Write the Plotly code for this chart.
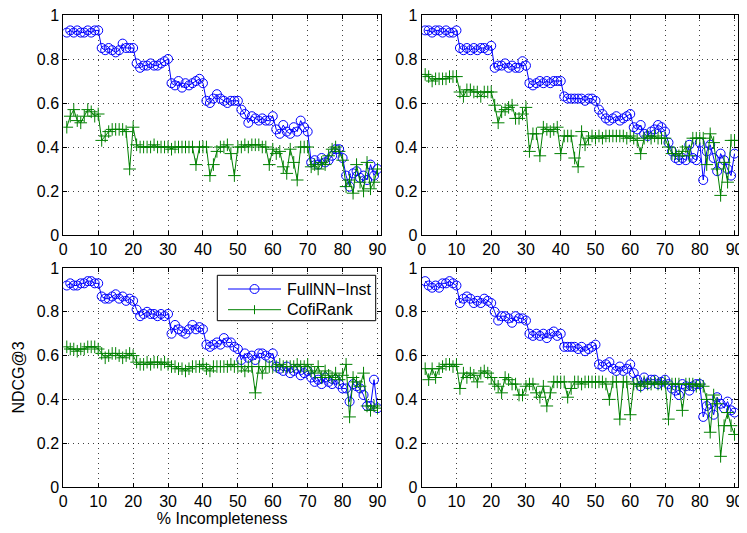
import plotly.graph_objects as go

x_vals = list(range(1, 91))

# Panel 1 (top-left)
p1_fullnn = [0.92, 0.93, 0.92, 0.93, 0.92, 0.92, 0.93, 0.92, 0.93, 0.93,
             0.85, 0.84, 0.85, 0.84, 0.83, 0.84, 0.87, 0.85, 0.85, 0.85,
             0.78, 0.76, 0.77, 0.77, 0.78, 0.77, 0.77, 0.78, 0.79, 0.80,
             0.69, 0.68, 0.70, 0.67, 0.69, 0.68, 0.69, 0.70, 0.71, 0.69,
             0.61, 0.60, 0.62, 0.64, 0.62, 0.61, 0.60, 0.61, 0.61, 0.61,
             0.57, 0.55, 0.51, 0.54, 0.53, 0.52, 0.53, 0.52, 0.52, 0.54,
             0.48, 0.46, 0.50, 0.47, 0.46, 0.49, 0.47, 0.52, 0.49, 0.47,
             0.33, 0.34, 0.32, 0.35, 0.33, 0.34, 0.36, 0.39, 0.39, 0.35,
             0.27, 0.22, 0.28, 0.29, 0.26, 0.27, 0.25, 0.32, 0.27, 0.30]
p1_cofi = [0.49, 0.54, 0.57, 0.52, 0.51, 0.54, 0.57, 0.56, 0.54, 0.55,
           0.43, 0.45, 0.47, 0.48, 0.48, 0.48, 0.48, 0.47, 0.30, 0.49,
           0.41, 0.40, 0.40, 0.40, 0.40, 0.41, 0.40, 0.40, 0.40, 0.40,
           0.39, 0.40, 0.40, 0.40, 0.40, 0.40, 0.40, 0.32, 0.40, 0.40,
           0.40, 0.27, 0.32, 0.38, 0.40, 0.40, 0.41, 0.37, 0.27, 0.40,
           0.40, 0.41, 0.40, 0.41, 0.41, 0.41, 0.40, 0.40, 0.32, 0.39,
           0.37, 0.38, 0.31, 0.28, 0.39, 0.33, 0.25, 0.40, 0.40, 0.40,
           0.31, 0.32, 0.30, 0.33, 0.32, 0.36, 0.39, 0.40, 0.38, 0.34,
           0.22, 0.25, 0.19, 0.32, 0.24, 0.20, 0.33, 0.21, 0.24, 0.30]

# Panel 2 (top-right)
p2_fullnn = [0.93, 0.93, 0.92, 0.93, 0.93, 0.92, 0.93, 0.92, 0.92, 0.93,
             0.85, 0.84, 0.85, 0.84, 0.85, 0.84, 0.85, 0.85, 0.84, 0.86,
             0.76, 0.77, 0.77, 0.78, 0.76, 0.77, 0.76, 0.76, 0.79, 0.77,
             0.69, 0.68, 0.69, 0.70, 0.69, 0.70, 0.69, 0.70, 0.70, 0.70,
             0.63, 0.62, 0.62, 0.62, 0.62, 0.62, 0.61, 0.62, 0.62, 0.61,
             0.57, 0.55, 0.53, 0.52, 0.53, 0.54, 0.52, 0.53, 0.54, 0.55,
             0.49, 0.48, 0.50, 0.46, 0.45, 0.47, 0.48, 0.50, 0.49, 0.47,
             0.42, 0.38, 0.35, 0.34, 0.35, 0.34, 0.41, 0.35, 0.34, 0.42,
             0.25, 0.38, 0.41, 0.35, 0.29, 0.37, 0.34, 0.30, 0.27, 0.37]
p2_cofi = [0.73, 0.72, 0.70, 0.71, 0.71, 0.71, 0.71, 0.72, 0.72, 0.72,
           0.65, 0.63, 0.66, 0.66, 0.65, 0.65, 0.63, 0.65, 0.65, 0.65,
           0.59, 0.51, 0.56, 0.57, 0.58, 0.59, 0.53, 0.53, 0.55, 0.58,
           0.38, 0.46, 0.46, 0.36, 0.49, 0.48, 0.47, 0.48, 0.49, 0.37,
           0.45, 0.45, 0.45, 0.35, 0.31, 0.47, 0.41, 0.44, 0.45, 0.44,
           0.45, 0.44, 0.45, 0.45, 0.45, 0.45, 0.45, 0.45, 0.44, 0.45,
           0.44, 0.43, 0.37, 0.44, 0.45, 0.44, 0.45, 0.44, 0.44, 0.44,
           0.40, 0.37, 0.37, 0.36, 0.38, 0.40, 0.36, 0.44, 0.44, 0.44,
           0.44, 0.32, 0.46, 0.42, 0.30, 0.18, 0.33, 0.24, 0.43, 0.43]

# Panel 3 (bottom-left)
p3_fullnn = [0.92, 0.93, 0.92, 0.92, 0.93, 0.93, 0.94, 0.94, 0.93, 0.93,
             0.87, 0.86, 0.86, 0.87, 0.88, 0.86, 0.87, 0.85, 0.86, 0.85,
             0.81, 0.78, 0.79, 0.80, 0.79, 0.79, 0.78, 0.79, 0.78, 0.79,
             0.70, 0.74, 0.72, 0.71, 0.70, 0.72, 0.74, 0.72, 0.73, 0.72,
             0.65, 0.64, 0.65, 0.66, 0.65, 0.68, 0.66, 0.66, 0.64, 0.63,
             0.58, 0.61, 0.59, 0.60, 0.58, 0.61, 0.61, 0.60, 0.59, 0.61,
             0.55, 0.54, 0.53, 0.55, 0.52, 0.53, 0.54, 0.51, 0.52, 0.53,
             0.50, 0.48, 0.49, 0.47, 0.50, 0.48, 0.47, 0.49, 0.47, 0.45,
             0.45, 0.39, 0.47, 0.46, 0.45, 0.42, 0.37, 0.37, 0.49, 0.36]
p3_cofi = [0.64, 0.63, 0.63, 0.62, 0.63, 0.63, 0.64, 0.64, 0.64, 0.63,
           0.61, 0.59, 0.60, 0.61, 0.61, 0.60, 0.59, 0.60, 0.61, 0.60,
           0.57, 0.56, 0.56, 0.57, 0.56, 0.57, 0.57, 0.56, 0.57, 0.56,
           0.55, 0.55, 0.54, 0.54, 0.53, 0.54, 0.55, 0.55, 0.55, 0.56,
           0.54, 0.53, 0.55, 0.55, 0.55, 0.55, 0.55, 0.56, 0.55, 0.55,
           0.55, 0.53, 0.55, 0.55, 0.43, 0.55, 0.52, 0.55, 0.55, 0.55,
           0.55, 0.56, 0.55, 0.55, 0.55, 0.55, 0.56, 0.55, 0.55, 0.56,
           0.53, 0.52, 0.55, 0.50, 0.53, 0.51, 0.50, 0.52, 0.49, 0.51,
           0.56, 0.32, 0.50, 0.48, 0.46, 0.52, 0.37, 0.35, 0.37, 0.36]

# Panel 4 (bottom-right)
p4_fullnn = [0.94, 0.92, 0.91, 0.92, 0.91, 0.93, 0.93, 0.94, 0.93, 0.92,
             0.84, 0.86, 0.87, 0.86, 0.84, 0.85, 0.84, 0.86, 0.85, 0.84,
             0.80, 0.76, 0.78, 0.78, 0.77, 0.75, 0.78, 0.77, 0.77, 0.76,
             0.70, 0.69, 0.70, 0.69, 0.70, 0.68, 0.70, 0.71, 0.69, 0.70,
             0.64, 0.64, 0.64, 0.64, 0.63, 0.64, 0.62, 0.63, 0.64, 0.65,
             0.56, 0.55, 0.56, 0.57, 0.54, 0.53, 0.55, 0.53, 0.54, 0.56,
             0.52, 0.49, 0.46, 0.50, 0.47, 0.49, 0.49, 0.47, 0.48, 0.49,
             0.47, 0.45, 0.44, 0.42, 0.47, 0.46, 0.44, 0.46, 0.47, 0.47,
             0.32, 0.37, 0.38, 0.33, 0.41, 0.38, 0.36, 0.39, 0.35, 0.34]
p4_cofi = [0.54, 0.49, 0.54, 0.50, 0.54, 0.55, 0.56, 0.56, 0.55, 0.56,
           0.45, 0.52, 0.50, 0.52, 0.51, 0.48, 0.52, 0.53, 0.52, 0.50,
           0.47, 0.46, 0.43, 0.50, 0.49, 0.47, 0.47, 0.42, 0.42, 0.46,
           0.47, 0.47, 0.43, 0.41, 0.46, 0.37, 0.43, 0.48, 0.48, 0.48,
           0.48, 0.41, 0.45, 0.48, 0.48, 0.47, 0.48, 0.48, 0.48, 0.48,
           0.48, 0.48, 0.47, 0.40, 0.48, 0.48, 0.31, 0.48, 0.48, 0.33,
           0.47, 0.47, 0.46, 0.48, 0.47, 0.47, 0.48, 0.47, 0.47, 0.48,
           0.31, 0.47, 0.47, 0.47, 0.35, 0.47, 0.47, 0.47, 0.46, 0.47,
           0.46, 0.40, 0.25, 0.42, 0.38, 0.14, 0.28, 0.34, 0.28, 0.24]

series_names = ["FullNN\u2212Inst", "CofiRank"]
x_ticks = list(range(0, 100, 10))
x_tick_labels = [str(v) for v in x_ticks]
y_ticks = [0, 0.2, 0.4, 0.6, 0.8, 1]
y_tick_labels = ["0", "0.2", "0.4", "0.6", "0.8", "1"]

BLUE = "#0000ff"
GREEN = "#008000"
FONT = "Liberation Sans, Arial, Helvetica, sans-serif"
FS = 16

# the page body has an 8px margin; work in page pixels and shift
OFF = 8
PW, PH = 747, 533
W, H = PW - OFF, PH - OFF


def px2x(px):
    return (px - OFF) / W


def px2y(py):
    return 1 - (py - OFF) / H


# pixel boxes of the four axes in page coords: (left, right, top, bottom)
boxes = [(63.3, 381, 15, 235), (421.7, 738, 15, 235),
         (63.3, 381, 268, 487), (421.7, 738, 268, 487)]
panels = [(p1_fullnn, p1_cofi), (p2_fullnn, p2_cofi),
          (p3_fullnn, p3_cofi), (p4_fullnn, p4_cofi)]

fig = go.Figure()
layout_axes = {}
for i, ((full, cofi), (l, r, t, b)) in enumerate(zip(panels, boxes)):
    n = i + 1
    xa = "x" if n == 1 else f"x{n}"
    ya = "y" if n == 1 else f"y{n}"
    fig.add_trace(go.Scatter(
        x=x_vals, y=full, xaxis=xa, yaxis=ya, mode="lines+markers",
        name=series_names[0], showlegend=False,
        line=dict(color=BLUE, width=1),
        marker=dict(symbol="circle-open", size=9, color=BLUE,
                    line=dict(width=1, color=BLUE))))
    fig.add_trace(go.Scatter(
        x=x_vals, y=cofi, xaxis=xa, yaxis=ya, mode="lines+markers",
        name=series_names[1], showlegend=False,
        line=dict(color=GREEN, width=1),
        marker=dict(symbol="cross-thin-open", size=9, color=GREEN,
                    line=dict(width=1, color=GREEN))))
    common = dict(showline=True, linecolor="black", linewidth=1,
                  mirror="ticks", ticks="inside", ticklen=4,
                  tickcolor="black", showgrid=True, automargin=False,
                  ticklabeloverflow="allow",
                  gridcolor="rgba(0,0,0,0.75)", gridwidth=1,
                  griddash="1px,4px", zeroline=False,
                  tickfont=dict(family=FONT, size=FS, color="black"))
    xkey = "xaxis" if n == 1 else f"xaxis{n}"
    ykey = "yaxis" if n == 1 else f"yaxis{n}"
    xdict = dict(common, domain=[px2x(l), px2x(r)], anchor=ya,
                 range=[0, 91], tickvals=x_ticks, ticktext=x_tick_labels)
    ydict = dict(common, domain=[px2y(b), px2y(t)], anchor=xa,
                 range=[0, 1], tickvals=y_ticks, ticktext=y_tick_labels)
    if n == 3:
        xdict["title"] = dict(text="% Incompleteness", standoff=2,
                              font=dict(family=FONT, size=FS, color="black"))
        ydict["title"] = dict(text="NDCG@3", standoff=8,
                              font=dict(family=FONT, size=FS, color="black"))
    layout_axes[xkey] = xdict
    layout_axes[ykey] = ydict

# MATLAB-style legend box inside the bottom-left axes
shapes = []
annotations = []
LB = (217.3, 375.7, 275.3, 320.7)  # left, right, top, bottom (page px)
shapes.append(dict(type="rect", xref="paper", yref="paper",
                   x0=px2x(LB[0]), x1=px2x(LB[1]),
                   y0=px2y(LB[3]), y1=px2y(LB[2]),
                   line=dict(color="black", width=1), fillcolor="white",
                   layer="above"))
rows = [(289.0, BLUE, "circle"), (309.7, GREEN, "plus")]
for (ry, col, kind), name in zip(rows, series_names):
    shapes.append(dict(type="line", xref="paper", yref="paper",
                       x0=px2x(228), x1=px2x(281), y0=px2y(ry), y1=px2y(ry),
                       line=dict(color=col, width=1), layer="above"))
    cx = 254.5
    if kind == "circle":
        shapes.append(dict(type="circle", xref="paper", yref="paper",
                           x0=px2x(cx - 4.5), x1=px2x(cx + 4.5),
                           y0=px2y(ry + 4.5), y1=px2y(ry - 4.5),
                           line=dict(color=col, width=1),
                           fillcolor="rgba(0,0,0,0)", layer="above"))
    else:
        shapes.append(dict(type="line", xref="paper", yref="paper",
                           x0=px2x(cx), x1=px2x(cx),
                           y0=px2y(ry - 4.5), y1=px2y(ry + 4.5),
                           line=dict(color=col, width=1), layer="above"))
    annotations.append(dict(text=name, xref="paper", yref="paper",
                            x=px2x(285), y=px2y(ry), xanchor="left",
                            yanchor="middle", showarrow=False,
                            font=dict(family=FONT, size=FS, color="black")))

fig.update_layout(
    width=W, height=H,
    margin=dict(l=0, r=0, t=0, b=0),
    paper_bgcolor="white", plot_bgcolor="white",
    font=dict(family=FONT, size=FS, color="black"),
    showlegend=False,
    shapes=shapes, annotations=annotations,
    **layout_axes)

fig.write_html("out.html")
